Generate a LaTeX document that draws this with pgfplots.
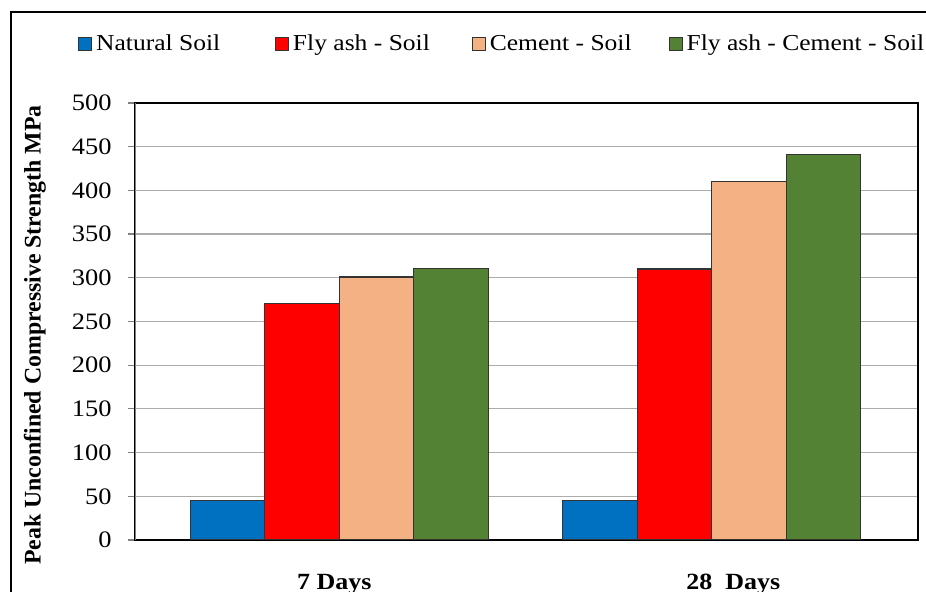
\documentclass[border=0pt]{standalone}
\usepackage{fontspec}
\setmainfont{Liberation Serif}[FakeStretch=1.12]
\newfontfamily\plainserif{Liberation Serif}
\usepackage{pgfplots}
\pgfplotsset{compat=1.18}
\definecolor{cnat}{RGB}{0,112,192}
\definecolor{cfly}{RGB}{255,0,0}
\definecolor{ccem}{RGB}{244,177,131}
\definecolor{cfc}{RGB}{84,130,53}
\pgfplotsset{sq/.style={legend image code/.code={\draw[##1,line width=0.5pt] (0pt,-3.2pt) rectangle (6.4pt,3.2pt);}}}

\begin{document}
\begin{tikzpicture}
\useasboundingbox (0,0) rectangle (463pt,-296pt);
\clip (0,0) rectangle (463pt,-296pt);
\draw[line width=1pt] (5.5pt,-6pt) rectangle (520pt,-330pt);
\begin{axis}[
  at={(67.5pt,-270pt)}, anchor=south west,
  scale only axis, width=391.5pt, height=218.5pt,
  ybar, bar width=0.2,
  xmin=-0.548, xmax=1.554, ymin=0, ymax=500,
  ytick={0,50,...,500}, ytick pos=left,
  xtick={-0.013,1.058}, xticklabels={7 Days,28\ \ Days},
  major x tick style={draw=none},
  tick align=outside, major tick length=3.5pt,
  major tick style={gray, line width=0.6pt},
  ymajorgrids, grid style={gray!65, line width=0.6pt},
  axis line style={black, line width=0.6pt},
  /pgf/number format/assume math mode=true,
  yticklabel style={font=\fontsize{11.8}{13}\selectfont, anchor=east, inner xsep=0pt, xshift=-8pt},
  xticklabel style={font=\bfseries\fontsize{11.6}{13}\selectfont, anchor=center, yshift=-18.5pt},
  ylabel={\bfseries Peak Unconfined Compressive Strength MPa},
  ylabel style={font=\plainserif\fontsize{11.9}{13}\selectfont, at={(axis description cs:-0.128,0.469)}, anchor=center, rotate=0},
  legend columns=4,
  legend style={at={(axis description cs:-0.0728,1.135)}, anchor=west, draw=none, fill=none,
    font=\fontsize{11.4}{13}\selectfont, inner xsep=0pt,
    nodes={inner xsep=2pt},
    /tikz/every even column/.append style={column sep=0pt}},
]
\addplot[sq, fill=cnat, draw=black!80, line width=0.6pt, bar shift=-0.3] coordinates {(0,45) (1,45)};
\addplot[sq, fill=cfly, draw=black!80, line width=0.6pt, bar shift=-0.1] coordinates {(0,271) (1,310)};
\addplot[sq, fill=ccem, draw=black!80, line width=0.6pt, bar shift=0.1] coordinates {(0,301) (1,410)};
\addplot[sq, fill=cfc, draw=black!80, line width=0.6pt, bar shift=0.3] coordinates {(0,311) (1,441)};
\legend{\makebox[87.5pt][l]{Natural Soil},\makebox[87.5pt][l]{Fly ash - Soil},\makebox[87.5pt][l]{Cement - Soil},Fly ash - Cement - Soil}
\draw[gray, line width=0.6pt] (rel axis cs:0,0) -- (rel axis cs:0,1);
\end{axis}
\end{tikzpicture}
\end{document}
